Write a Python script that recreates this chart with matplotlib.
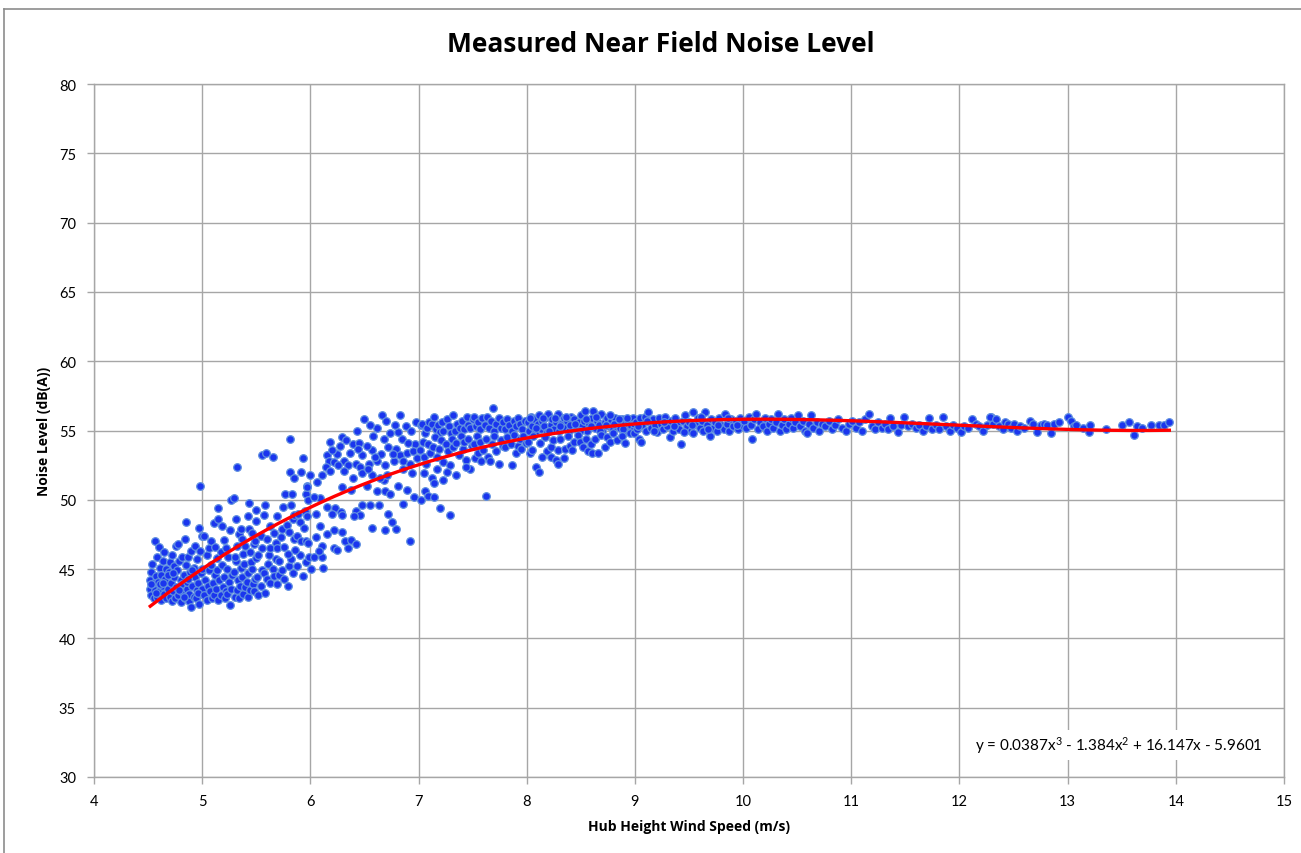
import matplotlib
matplotlib.use("Agg")
import matplotlib.pyplot as plt
import numpy as np

# ---------------- data ----------------
title = "Measured Near Field Noise Level"
x_label = "Hub Height Wind Speed (m/s)"
y_label = "Noise Level (dB(A))"
x_ticks = [4, 5, 6, 7, 8, 9, 10, 11, 12, 13, 14, 15]
y_ticks = [30, 35, 40, 45, 50, 55, 60, 65, 70, 75, 80]
trend_coeffs = [0.0387, -1.384, 16.147, -5.9601]
trend_range = [4.52, 13.94]
equation = "y = 0.0387x$^{3}$ - 1.384x$^{2}$ + 16.147x - 5.9601"

points_a = [
    (4.52,44.2),(4.52,43.6),(4.53,44.8),(4.53,43.1),(4.54,45.4),(4.55,44.0),(4.55,42.9),(4.56,47.0),(4.56,43.5),
    (4.57,44.5),(4.58,45.9),(4.58,43.0),(4.59,44.1),(4.60,46.6),(4.60,43.4),(4.61,45.1),(4.62,42.8),(4.62,44.6),
    (4.63,43.8),(4.64,45.6),(4.65,46.2),(4.65,43.2),(4.66,44.3),(4.67,42.9),(4.67,45.0),(4.68,43.6),(4.69,44.8),
    (4.70,43.0),(4.70,45.5),(4.71,44.0),(4.72,42.7),(4.72,46.0),(4.73,43.4),(4.74,45.2),(4.74,44.4),(4.75,42.9),
    (4.76,46.7),(4.76,43.7),(4.77,44.9),(4.78,46.8),(4.78,43.1),(4.79,45.6),(4.80,44.2),(4.80,42.6),(4.81,43.9),
    (4.81,45.9),(4.82,43.3),(4.83,44.6),(4.84,47.2),(4.84,42.9),(4.85,48.4),(4.85,45.3),(4.86,43.6),(4.86,44.1),
    (4.87,45.9),(4.88,42.7),(4.88,43.2),(4.89,44.8),(4.90,42.3),(4.90,46.3),(4.91,43.8),(4.92,45.1),(4.92,43.0),
    (4.93,46.7),(4.93,44.4),(4.94,42.9),(4.95,43.5),(4.95,45.7),(4.96,44.0),(4.97,48.0),(4.97,42.5),(4.98,51.0),
    (4.98,46.3),(4.99,43.2),(4.99,44.7),(5.00,47.4),(5.00,45.0),(5.00,43.6),
    (4.53,43.9),(4.57,43.3),(4.61,43.9),(4.64,44.0),(4.68,44.6),(4.73,44.7),(4.79,43.5),(4.83,43.0),(4.87,44.3),
    (4.91,44.9),(4.96,43.3),
]

points_b = [
    (5.02,43.1),(5.03,44.2),(5.04,42.8),(5.05,43.8),(5.06,44.9),(5.07,43.4),(5.08,45.3),(5.09,42.9),(5.10,44.0),
    (5.11,43.1),(5.12,44.6),(5.13,43.6),(5.14,44.9),(5.15,42.8),(5.16,44.2),(5.17,43.1),(5.18,45.3),(5.19,43.7),
    (5.20,44.4),(5.21,42.9),(5.22,43.4),(5.23,45.0),(5.23,43.2),(5.25,44.1),(5.26,42.4),(5.27,43.6),(5.28,44.6),
    (5.29,44.8),(5.30,43.0),(5.31,45.6),(5.32,43.5),(5.33,44.2),(5.34,42.9),(5.35,43.8),(5.36,45.1),(5.37,44.4),
    (5.38,43.2),(5.39,45.4),(5.40,43.7),(5.41,44.1),(5.42,43.0),(5.42,44.7),(5.44,43.5),(5.45,45.5),(5.46,45.0),
    (5.47,43.9),(5.48,43.4),(5.49,44.3),(5.50,45.8),(5.51,44.4),(5.52,43.1),(5.54,43.8),(5.55,44.9),(5.57,44.7),
    (5.58,43.3),(5.60,44.3),(5.61,45.4),(5.63,44.0),(5.65,45.0),(5.66,44.5),(5.68,45.7),(5.69,43.9),(5.71,44.6),
    (5.74,44.9),(5.76,44.3),(5.79,43.8),(5.80,45.2),(5.82,45.7),(5.84,44.7),(5.88,45.2),(5.90,46.0),(5.93,44.5),
    (5.96,45.5),(5.99,45.9),
    (5.02,47.4),(5.04,46.0),(5.06,46.5),(5.08,47.0),(5.11,48.3),(5.12,46.6),(5.14,45.8),(5.15,48.6),(5.15,49.4),
    (5.17,46.2),(5.18,48.1),(5.20,47.1),(5.22,46.5),(5.24,45.9),(5.26,47.8),(5.27,50.0),(5.29,50.1),(5.30,45.9),
    (5.31,48.6),(5.32,46.7),(5.32,52.4),(5.34,47.5),(5.36,47.9),(5.37,47.2),(5.38,46.1),(5.40,46.7),(5.42,48.8),
    (5.43,49.8),(5.43,47.9),(5.44,46.2),(5.46,47.6),(5.48,46.8),(5.49,47.0),(5.50,48.5),(5.50,49.3),(5.52,46.0),
    (5.54,47.4),(5.55,46.5),(5.55,53.2),(5.57,48.9),(5.58,49.6),(5.59,53.4),(5.60,47.2),(5.62,46.0),(5.63,46.5),
    (5.63,48.1),(5.65,53.1),(5.66,47.6),(5.68,46.9),(5.69,46.5),(5.69,48.8),(5.71,45.6),(5.73,47.3),(5.74,47.9),
    (5.75,49.5),(5.76,46.6),(5.77,50.4),(5.78,48.2),(5.79,46.1),(5.80,47.7),(5.81,52.0),(5.81,54.4),(5.82,49.6),
    (5.83,50.4),(5.84,48.6),(5.85,47.2),(5.85,48.9),(5.85,51.6),(5.86,46.4),(5.88,47.4),(5.89,49.0),(5.90,48.4),
    (5.91,47.0),(5.91,52.0),(5.93,53.0),(5.94,48.0),(5.95,49.2),(5.96,47.0),(5.96,50.4),(5.97,48.8),(5.97,51.0),
    (5.98,46.9),(5.98,50.0),(5.97,50.9),
]

points_c = [
    (6.66,56.1),(6.83,56.1),(6.50,55.8),(6.62,55.2),(6.43,55.0),(6.29,54.5),(6.18,54.2),(6.39,54.0),
    (6.15,53.2),(6.25,53.3),(6.37,53.4),(6.48,53.2),(6.57,53.6),(6.65,53.3),(6.72,53.8),(6.79,53.7),(6.83,53.2),
    (6.89,53.4),(6.97,54.0),
    (6.17,52.8),(6.22,52.7),(6.31,52.8),(6.35,52.5),(6.42,52.6),(6.46,52.4),(6.54,52.6),(6.62,52.8),(6.69,52.5),
    (6.77,52.8),(6.86,52.8),(6.92,52.6),(6.99,53.0),
    (6.14,52.4),(6.18,52.1),(6.31,52.1),(6.39,51.6),(6.48,51.9),(6.57,51.8),(6.68,51.4),(6.71,51.8),
    (6.06,51.3),(6.11,51.8),(6.00,51.8),
    (6.29,50.9),(6.38,50.7),(6.52,51.0),(6.62,50.6),(6.69,50.6),(6.74,50.4),(6.89,50.7),(6.96,50.2),
    (6.09,50.1),(6.03,50.2),
    (6.15,49.5),(6.23,49.4),(6.28,49.1),(6.42,49.2),(6.48,49.6),(6.55,49.6),(6.63,49.6),(6.46,48.9),(6.40,48.8),
    (6.29,48.9),(6.20,49.0),(6.05,49.0),(6.72,49.0),(6.75,48.4),(6.86,49.7),
    (6.57,48.0),(6.69,47.8),(6.79,47.9),(6.92,47.0),(6.09,48.1),(6.22,47.8),(6.29,47.7),(6.15,47.5),(6.05,47.3),
    (6.11,46.7),(6.22,46.5),(6.32,47.0),(6.38,47.1),(6.35,46.5),(6.25,46.4),(6.03,45.9),(6.11,45.9),
    (6.01,45.0),(6.08,46.3),(6.12,45.1),(6.42,46.8),(6.20,53.6),(6.27,53.9),(6.33,54.3),(6.45,54.1),(6.52,53.9),
    (6.58,54.6),(6.60,53.1),(6.68,54.4),(6.74,54.8),(6.76,53.3),(6.81,54.9),(6.85,54.4),(6.88,55.3),(6.90,54.1),
    (6.93,55.0),(6.95,53.5),(6.98,55.6),(6.86,52.2),(6.53,52.2),(6.44,53.7),(6.26,52.5),(6.64,51.6),(6.81,51.0),
    (6.94,51.9),(6.78,55.4),(6.70,55.7),(6.55,55.4),
]

points_d = [
    (7.02,55.4),(7.03,55.5),(7.06,54.8),(7.08,55.2),(7.10,55.6),(7.12,55.5),(7.14,56.0),(7.16,55.1),(7.18,55.4),
    (7.20,54.9),(7.22,55.6),(7.23,55.0),(7.26,55.8),(7.28,55.3),(7.30,54.8),(7.32,56.1),(7.34,55.0),(7.36,55.5),
    (7.38,55.2),(7.40,55.7),(7.42,55.1),(7.45,56.0),(7.46,55.4),(7.48,55.2),(7.50,55.8),(7.51,56.0),(7.53,55.3),
    (7.55,55.6),(7.57,55.1),(7.59,55.9),(7.61,55.4),(7.63,56.0),(7.65,55.2),(7.67,55.7),(7.69,56.6),(7.70,55.0),
    (7.72,55.5),(7.74,55.9),(7.76,55.2),(7.78,55.6),(7.80,55.1),(7.82,55.8),(7.84,55.4),(7.86,55.0),(7.88,55.7),
    (7.90,55.3),(7.92,55.9),(7.94,55.5),(7.96,55.1),(7.98,55.7),
    (7.01,53.6),(7.04,54.2),(7.05,53.1),(7.07,52.6),(7.09,54.0),(7.11,53.4),(7.13,53.8),(7.15,54.5),(7.17,53.1),
    (7.19,53.7),(7.21,54.3),(7.23,52.7),(7.25,54.0),(7.27,53.5),(7.29,52.5),(7.31,54.4),(7.32,53.8),(7.35,54.1),
    (7.37,53.2),(7.39,54.6),(7.41,53.7),(7.42,54.2),(7.44,52.9),(7.46,54.4),(7.48,52.2),(7.49,53.9),(7.51,54.0),
    (7.52,53.0),(7.54,54.6),(7.55,53.4),(7.57,54.2),(7.58,52.8),(7.60,53.6),(7.62,54.4),(7.64,53.1),(7.66,52.8),
    (7.68,54.0),(7.70,54.6),(7.72,53.5),(7.74,52.6),(7.76,54.3),(7.78,53.9),(7.80,53.8),(7.82,54.5),(7.85,54.0),
    (7.86,52.5),(7.88,54.7),(7.90,53.4),(7.92,53.9),(7.94,54.4),(7.95,53.7),(7.97,54.6),(7.99,54.1),
    (7.02,50.0),(7.05,51.9),(7.06,50.6),(7.09,50.3),(7.12,51.6),(7.14,51.2),(7.14,50.2),(7.17,52.2),(7.20,49.4),
    (7.23,51.4),(7.26,52.0),(7.29,48.9),(7.35,51.8),(7.62,50.3),(7.44,52.4),
]

points_e = [
    (8.01,55.6),(8.02,55.0),(8.04,56.0),(8.05,55.3),(8.07,55.8),(8.08,54.8),(8.10,55.5),(8.11,56.1),(8.13,55.1),
    (8.14,55.7),(8.16,55.3),(8.18,56.0),(8.19,54.9),(8.20,56.2),(8.22,55.4),(8.23,55.8),(8.25,55.1),(8.27,55.6),
    (8.29,56.2),(8.30,55.0),(8.32,55.5),(8.34,55.9),(8.35,55.2),(8.37,55.7),(8.39,55.0),(8.41,56.0),(8.42,55.4),
    (8.44,55.8),(8.46,55.1),(8.48,55.6),(8.50,56.1),(8.51,55.3),(8.53,55.7),(8.54,56.4),(8.56,55.0),(8.58,55.5),
    (8.60,55.9),(8.61,56.4),(8.63,55.2),(8.65,55.7),(8.67,55.4),(8.69,56.2),(8.70,55.0),(8.72,55.6),(8.74,55.9),
    (8.76,55.3),(8.78,55.7),(8.80,55.1),(8.82,55.9),(8.84,55.5),(8.86,55.2),(8.88,55.8),(8.90,55.4),(8.92,55.0),
    (8.94,55.7),(8.96,55.3),(8.98,55.9),(8.99,55.5),
    (8.03,55.9),(8.09,55.2),(8.15,55.9),(8.21,55.0),(8.26,55.9),(8.31,55.3),(8.36,56.0),(8.40,55.4),(8.45,55.5),
    (8.49,55.0),(8.55,55.8),(8.59,55.3),(8.64,56.0),(8.68,55.0),(8.73,55.4),(8.77,56.1),(8.81,55.5),(8.85,55.8),
    (8.89,55.1),(8.93,55.9),(8.97,55.0),
    (8.01,54.2),(8.03,53.4),(8.05,53.6),(8.06,54.6),(8.09,52.4),(8.11,52.0),(8.12,54.1),(8.14,53.1),(8.17,54.5),
    (8.19,53.5),(8.22,53.1),(8.22,53.8),(8.24,54.3),(8.27,52.9),(8.29,53.6),(8.29,52.6),(8.31,54.4),(8.34,53.0),
    (8.35,53.7),(8.38,54.6),(8.40,53.9),(8.42,53.6),(8.44,54.2),(8.47,54.7),(8.49,54.2),(8.52,53.8),(8.55,54.4),
    (8.57,53.5),(8.59,54.0),(8.60,53.4),(8.63,54.4),(8.66,53.4),(8.69,54.7),(8.72,53.8),(8.74,54.5),(8.77,54.2),
    (8.80,54.8),(8.83,54.3),(8.88,54.6),(8.91,54.1),(8.95,54.8),(8.99,54.8),
]

points_f = [
    (9.01,55.6),(9.02,55.1),(9.04,54.4),(9.05,55.9),(9.06,54.2),(9.07,55.4),(9.09,56.0),(9.10,55.0),(9.12,56.3),
    (9.13,55.6),(9.15,55.2),(9.17,55.8),(9.19,55.4),(9.20,54.9),(9.22,55.9),(9.24,55.5),(9.26,55.1),(9.28,56.0),
    (9.30,55.3),(9.32,54.5),(9.33,55.7),(9.35,55.0),(9.37,55.9),(9.39,55.4),(9.41,55.1),(9.43,54.0),(9.44,55.7),
    (9.46,56.1),(9.48,55.3),(9.50,55.6),(9.52,55.0),(9.54,56.3),(9.54,54.8),(9.56,55.5),(9.58,55.9),(9.60,55.2),
    (9.62,55.7),(9.63,55.0),(9.65,56.3),(9.67,55.4),(9.69,54.6),(9.70,55.8),(9.72,55.2),(9.74,55.6),(9.76,55.0),
    (9.78,55.9),(9.80,55.4),(9.82,55.1),(9.83,56.2),(9.85,55.5),(9.87,55.0),(9.89,55.8),(9.91,55.3),(9.93,55.7),
    (9.95,55.1),(9.97,55.9),(9.99,55.4),
    (9.03,55.3),(9.11,55.7),(9.18,55.0),(9.27,55.6),(9.36,55.3),(9.45,54.9),(9.53,55.4),(9.61,56.0),(9.68,55.1),
    (9.77,55.4),(9.86,55.9),(9.94,55.4),
]

points_g = [
    (10.01,55.7),(10.03,55.2),(10.05,56.0),(10.07,55.4),(10.08,54.4),(10.10,55.8),(10.12,56.2),(10.14,55.1),
    (10.16,55.6),(10.18,55.3),(10.20,55.9),(10.22,55.0),(10.24,55.5),(10.26,55.8),(10.28,55.2),(10.30,55.6),
    (10.32,56.2),(10.34,55.0),(10.36,55.4),(10.38,55.8),(10.40,55.1),(10.42,55.5),(10.44,55.9),(10.46,55.2),
    (10.48,55.6),(10.51,56.1),(10.53,55.3),(10.55,55.7),(10.57,55.0),(10.59,54.8),(10.61,55.5),(10.63,56.1),
    (10.65,55.2),(10.68,55.6),(10.70,55.0),(10.73,55.5),(10.76,55.3),(10.79,55.7),(10.82,55.1),(10.85,55.4),
    (10.88,55.8),(10.91,55.2),(10.95,55.0),(10.98,55.5),(11.01,55.7),(11.04,55.2),(11.07,55.6),(11.10,55.0),
    (11.13,55.8),(11.16,56.2),(11.19,55.3),(11.22,55.1),(11.25,55.6),(11.28,55.2),(11.31,55.5),(11.34,55.1),
    (11.36,55.9),(11.39,55.3),(11.43,54.9),(11.46,55.4),(11.49,56.0),(11.52,55.3),(11.56,55.5),(11.60,55.2),
    (11.63,55.4),(11.66,55.0),(11.69,55.3),(11.72,55.9),(11.75,55.1),(11.78,55.4),(11.81,55.1),(11.85,56.0),
    (11.88,55.3),(11.91,55.0),(11.94,55.4),(11.98,55.2),(12.01,54.9),(12.04,55.3),(12.08,55.2),(12.12,55.8),
    (12.15,55.5),(12.18,55.3),(12.22,55.0),(12.25,55.4),(12.29,56.0),(12.31,55.5),
]

points_h = [
    (12.28,56.0),(12.34,55.8),(12.37,55.3),(12.40,55.1),(12.42,55.6),(12.45,55.5),(12.48,55.2),(12.50,55.5),
    (12.53,55.0),(12.56,55.3),(12.60,55.2),(12.65,55.7),(12.68,55.5),(12.72,54.9),(12.75,55.4),(12.78,55.5),
    (12.81,55.4),(12.85,54.8),(12.87,55.5),(12.92,55.6),(13.00,56.0),(13.03,55.7),(13.06,55.3),(13.08,55.4),
    (13.14,55.2),(13.20,54.9),(13.21,55.4),(13.35,55.1),(13.50,55.4),(13.57,55.6),(13.61,54.7),(13.64,55.3),
    (13.69,55.2),(13.77,55.4),(13.84,55.4),(13.89,55.4),(13.94,55.6),
]

all_points = points_a + points_b + points_c + points_d + points_e + points_f + points_g + points_h
wind_speed = [p[0] for p in all_points]
noise_level = [p[1] for p in all_points]

# ---------------- figure ----------------
W, H = 1301, 854
fig = plt.figure(figsize=(W / 100, H / 100), dpi=100)
fig.patch.set_facecolor("white")
plt.rcParams["mathtext.fontset"] = "custom"
plt.rcParams["mathtext.rm"] = "Lato"
plt.rcParams["mathtext.it"] = "Lato"

FONT = ["Lato", "DejaVu Sans"]
BOLD = ["Open Sans", "DejaVu Sans"]
grid_c = "#a6a6a6"

# outer chart border (top and left visible)
fig.add_artist(plt.Line2D([4 / W, 1.0], [1 - 10 / H, 1 - 10 / H], color="#8c8c8c", lw=1.2))
fig.add_artist(plt.Line2D([4 / W, 4 / W], [0.0, 1 - 10 / H], color="#8c8c8c", lw=1.2))

ax = fig.add_axes([94 / W, 1 - 778 / H, (1284 - 94) / W, (778 - 85) / H])
ax.set_xlim(4, 15)
ax.set_ylim(30, 80)
ax.set_xticks(x_ticks)
ax.set_yticks(y_ticks)
ax.grid(True, color=grid_c, lw=1.0, zorder=0)
ax.set_axisbelow(True)
for s in ax.spines.values():
    s.set_color(grid_c)
    s.set_linewidth(1.0)
ax.tick_params(axis="both", color=grid_c, length=5, width=1.0, labelsize=10.5, direction="out")
ax.tick_params(axis="x", pad=7)
ax.tick_params(axis="y", pad=8)
for lab in ax.get_xticklabels() + ax.get_yticklabels():
    lab.set_family(FONT)

ax.scatter(wind_speed, noise_level, s=30, facecolor="#1a35ee", edgecolor="#6090e0",
           linewidth=0.9, zorder=3)

xt = np.linspace(trend_range[0], trend_range[1], 300)
ax.plot(xt, np.polyval(trend_coeffs, xt), color="#ff0000", lw=2.4, zorder=4)

ax.text((975 - 94) / (1284 - 94), (778 - 746) / (778 - 85), equation, transform=ax.transAxes,
        ha="left", va="center", fontsize=11, family=FONT, zorder=5,
        bbox=dict(facecolor="white", edgecolor="none", pad=3))

ax.set_xlabel(x_label, fontsize=10, fontweight="bold", family=BOLD)
ax.set_ylabel(y_label, fontsize=10, fontweight="bold", family=BOLD)
ax.xaxis.set_label_coords(0.5, -(820 - 778) / (778 - 85))
ax.yaxis.set_label_coords(-(94 - 51) / (1284 - 94), 0.5)

fig.text(661 / W, 1 - 45 / H, title, ha="center", va="center", fontsize=19,
         fontweight="bold", family=BOLD)

fig.savefig("out.png", dpi=100, facecolor="white")
